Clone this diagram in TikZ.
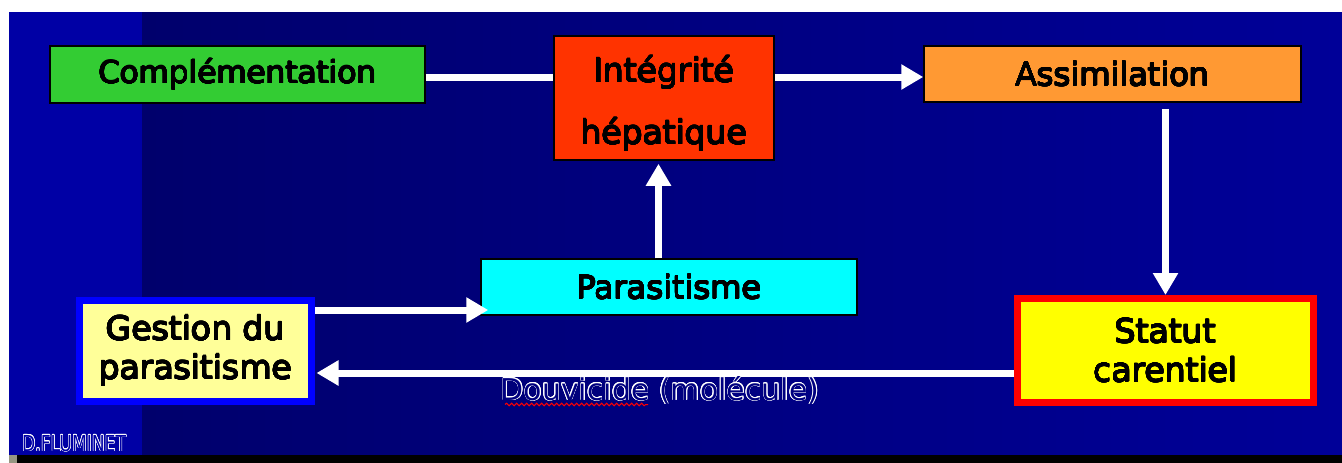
\documentclass[tikz,border=0pt]{standalone}
\usepackage{fontspec}
\setmainfont{DejaVu Sans}
\usepackage{graphicx}
\usepackage[copies]{contour}
\contourlength{0.6pt}
\usetikzlibrary{arrows.meta,calc,decorations.pathmorphing}

\definecolor{bgleft}{RGB}{0,0,165}
\definecolor{bgdark}{RGB}{0,0,108}
\definecolor{bglight}{RGB}{0,0,152}
\definecolor{bgmid}{RGB}{0,0,128}
\definecolor{corner}{RGB}{150,150,130}
\definecolor{cgreen}{RGB}{51,204,51}
\definecolor{cred}{RGB}{255,51,0}
\definecolor{corange}{RGB}{255,153,51}
\definecolor{ccyan}{RGB}{0,255,255}
\definecolor{cpale}{RGB}{255,255,153}
\definecolor{cyellow}{RGB}{255,255,0}
\definecolor{cblue}{RGB}{0,0,255}
\definecolor{cborder}{RGB}{255,0,0}

% slightly heavier black lettering for the box texts
\newcommand{\heavytext}[1]{{\contourlength{0.45pt}\contour{black}{#1}}}

\begin{document}
\begin{tikzpicture}[x=1pt,y=-1pt,
  box/.style={draw=black, line width=1.5pt, inner sep=0pt, text=black, align=center},
  link/.style={draw=white, line width=7pt},
  conn/.style={link, -{Triangle[length=22pt,width=24pt]}},
  wavy/.style={draw=red, line width=1pt, decorate,
    decoration={snake, amplitude=1.3pt, segment length=5pt}}]
\useasboundingbox (0,0) rectangle (1342,463);

% slide background
\fill[white] (0,0) rectangle (1342,463);
\fill[bgleft] (9,12) rectangle (142,455);
\shade[left color=bgdark, right color=bglight] (142,12) rectangle (1342,455);
\fill[black] (17,455) rectangle (1342,463);
\fill[corner] (9,455) rectangle (17,463);

% boxes
\node[box, fill=cgreen, minimum width=375pt, minimum height=57pt,
  font=\fontsize{31}{37}\selectfont] (comp) at (237.5,74.5)
  {\heavytext{Complémentation}};
\node[box, fill=cred, minimum width=220pt, minimum height=124pt,
  font=\fontsize{33}{62}\selectfont] (integ) at (664,98)
  {\rule{0pt}{38pt}\heavytext{Intégrité}\\\heavytext{hépatique}};
\node[box, fill=corange, minimum width=377pt, minimum height=56pt,
  font=\fontsize{32}{38}\selectfont] (assim) at (1112.5,74)
  {\heavytext{Assimilation}};
\node[box, fill=ccyan, minimum width=376pt, minimum height=56pt,
  font=\fontsize{32}{38}\selectfont] (para) at (669,287)
  {\heavytext{Parasitisme}};
\node[box, draw=cblue, line width=7pt, fill=cpale, minimum width=232pt,
  minimum height=101pt, font=\fontsize{33}{39}\selectfont] (gest) at (195.5,351)
  {\heavytext{Gestion du}\\\heavytext{parasitisme}};
\node[box, draw=cborder, line width=7pt, fill=cyellow, minimum width=296pt,
  minimum height=104pt, font=\fontsize{33}{39}\selectfont] (stat) at (1165.5,350.5)
  {\heavytext{Statut}\\\heavytext{carentiel}};

% connectors
\draw[link] ($(comp.east)+(0,2.5)$) -- ($(comp.east -| integ.west)+(0,2.5)$);
\draw[conn] ($(assim.west -| integ.east)+(0,3)$) -- ($(assim.west)+(0,3)$);
\draw[conn] ($(para.north)+(-10.5,0)$) -- ($(para.north |- integ.south)+(-10.5,3)$);
\draw[conn, shorten <=6pt] (assim.south -| stat.north) -- (stat.north);
\draw[conn] ($(gest.east)+(0,-41)$) -- ($(gest.east -| para.west)+(8,-41)$);
\draw[conn] ($(stat.west)+(0,22.5)$) -- ($(stat.west -| gest.east)+(1.5,22.5)$);

% connector label with its spelling underline
\node[anchor=base, inner sep=0pt, font=\fontsize{30}{36}\selectfont] (douv) at (660,400)
  {\contour{white}{\textcolor{bgmid}{Douvicide (molécule)}}};
\draw[wavy] (505,404.5) -- (648,404.5);

% author credit
\node[anchor=base west, inner sep=0pt, font=\fontsize{22}{22}\selectfont] (auth) at (22,451)
  {\scalebox{0.78}[1]{\contour{white}{\textcolor{bgleft}{D.FLUMINET}}}};
\end{tikzpicture}
\end{document}
